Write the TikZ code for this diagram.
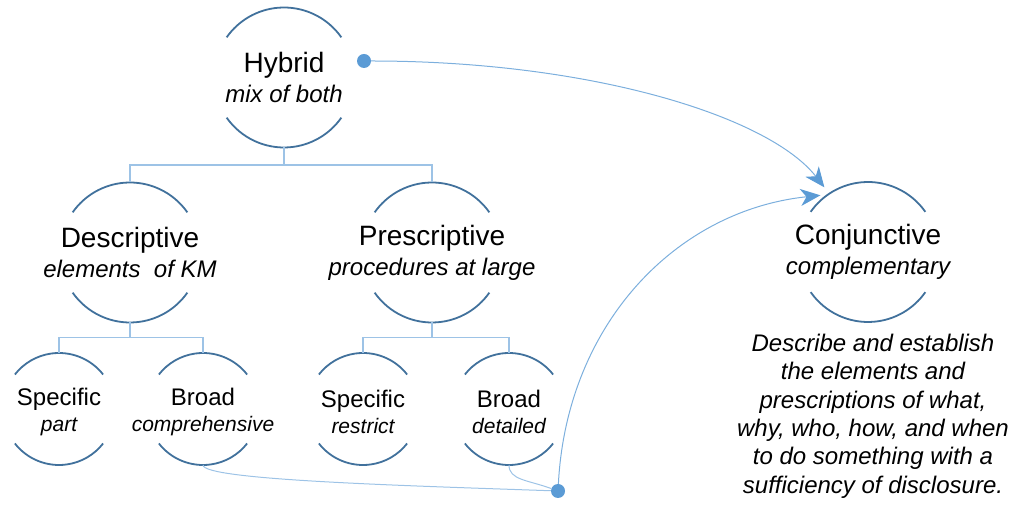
\documentclass[tikz,border=0pt]{standalone}
\usepackage{fontspec}
\setmainfont{Liberation Sans}
\usepackage{xcolor}
\usepackage{tikz}
\usetikzlibrary{arrows.meta,positioning,calc}

\definecolor{ringblue}{HTML}{41719C}
\definecolor{linkblue}{HTML}{9DC3E6}
\definecolor{dotblue}{HTML}{5B9BD5}

\tikzset{
  bigring/.style={circle, minimum size=140pt, inner sep=0pt, outer sep=0pt},
  smallring/.style={circle, minimum size=112pt, inner sep=0pt, outer sep=0pt},
  bigtext/.style={align=center, inner sep=0pt, font=\fontsize{28}{30}\selectfont},
  smalltext/.style={align=center, inner sep=0pt, yshift=-3pt, font=\fontsize{24}{26}\selectfont},
  desctext/.style={align=center, inner sep=0pt, font=\fontsize{24}{28.3}\selectfont\itshape},
  arcline/.style={draw=ringblue, line width=1.8pt},
  link/.style={draw=linkblue, line width=1.3pt},
  flow/.style={draw=dotblue!80, line width=1pt, -{Stealth[length=20pt,width=17pt,inset=6pt,color=dotblue]}},
  linkdot/.style={circle, fill=dotblue, minimum size=14pt, inner sep=0pt},
}

\begin{document}
\begin{tikzpicture}[x=1pt,y=1pt]
\useasboundingbox (0,0) rectangle (1020,508);

% Rings
\node[bigring] (hyb) at (284,430.5) {};
\node[bigring] (des) at (130,255.5) {};
\node[bigring] (pre) at (432,255.5) {};
\node[bigring] (con) at (868,256) {};
\node[smallring] (sp1) at (59,99) {};
\node[smallring] (br1) at (203,99) {};
\node[smallring] (sp2) at (363,99) {};
\node[smallring] (br2) at (509,99) {};

\foreach \n in {hyb,des,pre,con}{
  \draw[arcline] (\n.35) arc[start angle=35, end angle=145, radius=70pt];
  \draw[arcline] (\n.215) arc[start angle=215, end angle=325, radius=70pt];
}
\foreach \n in {sp1,br1,sp2,br2}{
  \draw[arcline] (\n.38) arc[start angle=38, end angle=142, radius=56pt];
  \draw[arcline] (\n.218) arc[start angle=218, end angle=322, radius=56pt];
}

% Texts
\node[bigtext] (hybt) at (hyb) {Hybrid\\{\fontsize{24}{30}\selectfont\itshape mix of both}};
\node[bigtext] (dest) at (des) {Descriptive\\{\fontsize{24}{30}\selectfont\itshape elements\ \ of KM}};
\node[bigtext] (pret) at (pre) {Prescriptive\\{\fontsize{24}{30}\selectfont\itshape procedures at large}};
\node[bigtext] (cont) at (con) {Conjunctive\\{\fontsize{24}{30}\selectfont\itshape complementary}};
\node[smalltext] (sp1t) at (sp1) {Specific\\{\fontsize{21}{26}\selectfont\itshape part}};
\node[smalltext] (br1t) at (br1) {Broad\\{\fontsize{21}{26}\selectfont\itshape comprehensive}};
\node[smalltext] (sp2t) at (sp2) {Specific\\{\fontsize{21}{26}\selectfont\itshape restrict}};
\node[smalltext] (br2t) at (br2) {Broad\\{\fontsize{21}{26}\selectfont\itshape detailed}};
\node[desctext, below=12pt of con, xshift=5pt] (desc) {Describe and establish\\the elements and\\prescriptions of what,\\why, who, how, and when\\to do something with a\\sufficiency of disclosure.};

% Tree
\draw[link] (hyb.south) -- ++(0,-17.5) -| (des.north);
\draw[link] (hyb.south) -- ++(0,-17.5) -| (pre.north);
\draw[link] (des.south) -- ++(0,-15) -| (sp1.north);
\draw[link] (des.south) -- ++(0,-15) -| (br1.north);
\draw[link] (pre.south) -- ++(0,-15) -| (sp2.north);
\draw[link] (pre.south) -- ++(0,-15) -| (br2.north);

% Dots and flows
\node[linkdot] (hdot) at (364,447) {};
\node[linkdot] (bdot) at (558,17) {};
\coordinate (tipA) at ($(con)+(124:78)$);
\coordinate (tipB) at ($(con)+(130:74)$);
\draw[link, line width=1pt] (br1.south) to[out=-90, in=178, out distance=15pt, in distance=150pt] (bdot);
\draw[link, line width=1pt] (br2.south) to[out=-90, in=160, out distance=15pt, in distance=25pt] (bdot);
\draw[flow] (hdot) to[out=0, in=128, out distance=220pt, in distance=90pt] (tipA);
\draw[flow] (bdot) to[out=87, in=186, out distance=160pt, in distance=145pt] (tipB);

\end{tikzpicture}
\end{document}
